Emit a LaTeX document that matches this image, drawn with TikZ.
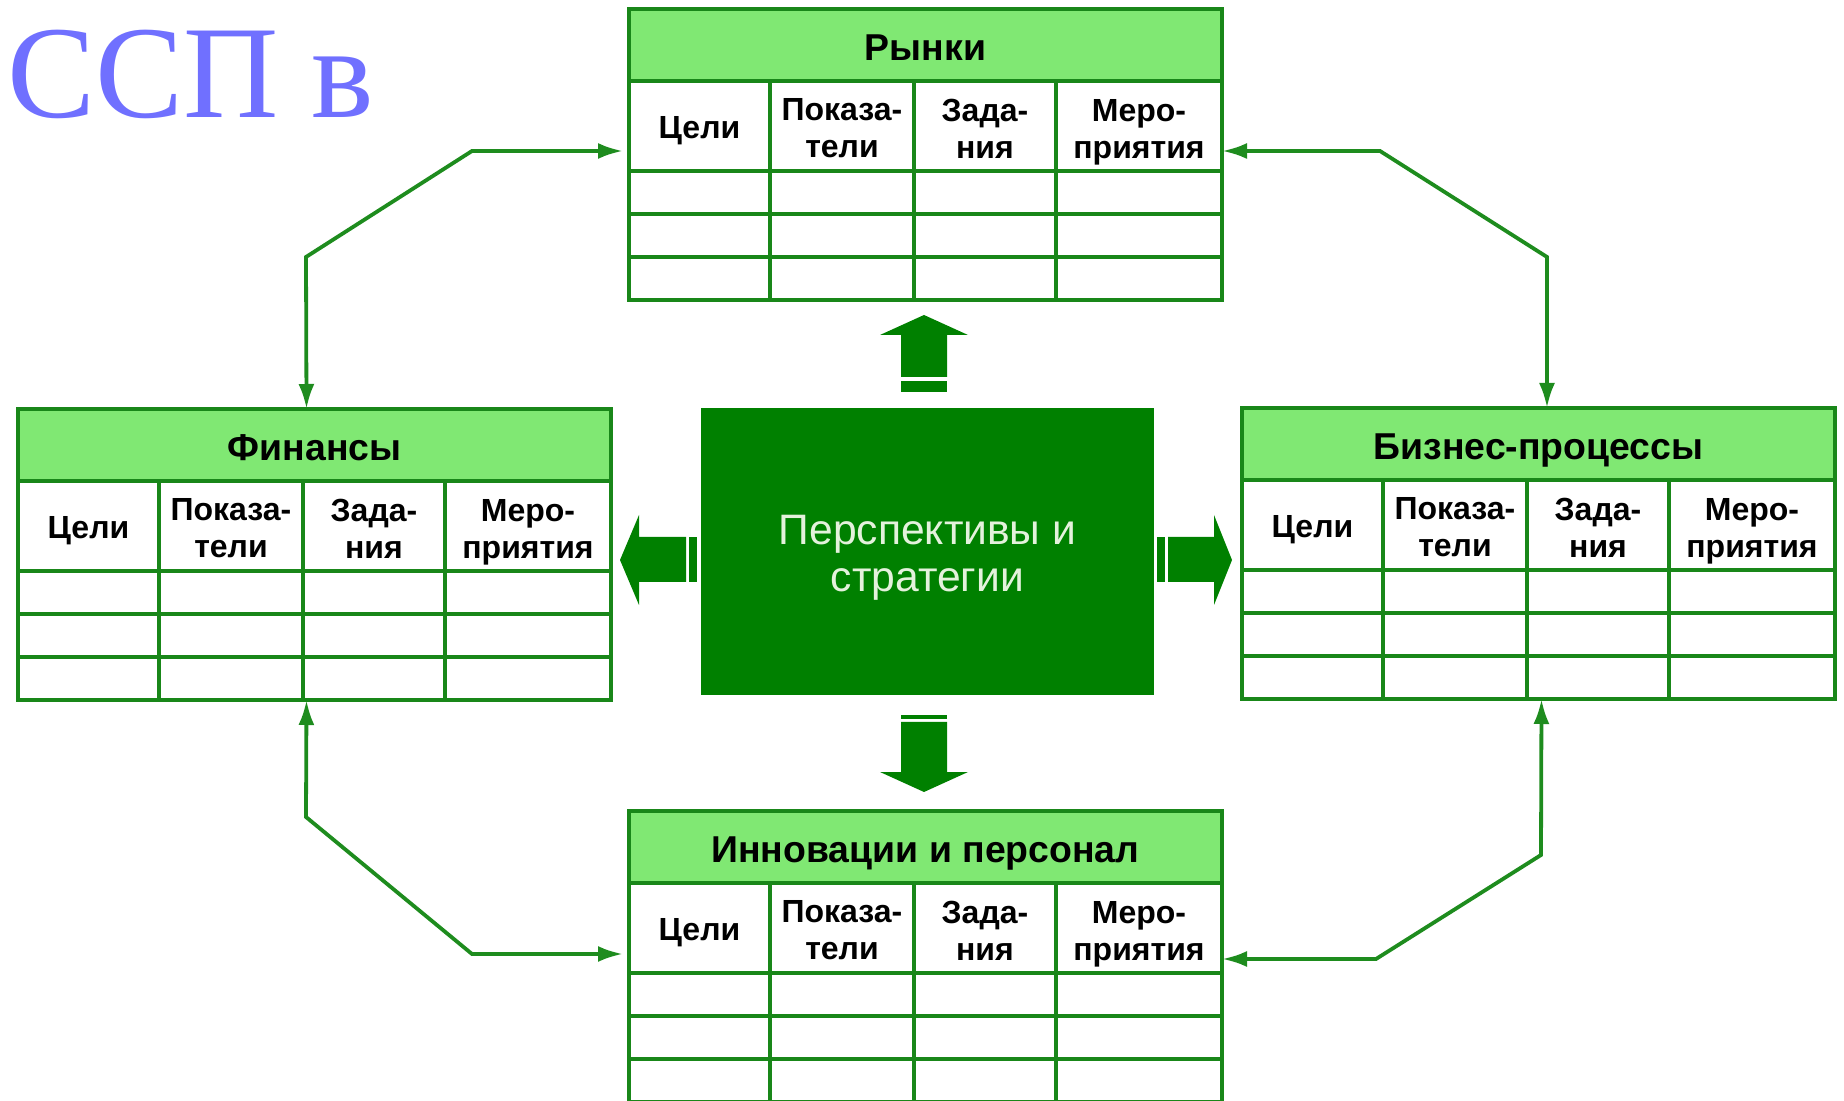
\documentclass[tikz,border=0pt]{standalone}
\usepackage{fontspec}
\setmainfont{Liberation Sans}
\newfontfamily\titlefont{Liberation Serif}
\usepackage{tikz}
\usetikzlibrary{calc}
\usetikzlibrary{arrows.meta, positioning}
\tikzset{>={Latex[length=12.5pt,width=8pt]}}

\definecolor{tabgreen}{RGB}{25,135,25}
\definecolor{headgreen}{RGB}{128,232,115}
\definecolor{coregreen}{RGB}{0,128,0}
\definecolor{coretext}{RGB}{228,242,220}
\definecolor{titleblue}{RGB}{112,112,255}
\definecolor{linkgreen}{RGB}{30,140,30}

\tikzset{
	tabline/.style={draw=tabgreen, line width=1.6pt},
	tabframe/.style={tabline, minimum width=296.5pt, minimum height=145.5pt, inner sep=0pt, outer sep=0pt},
	headtext/.style={font=\bfseries\fontsize{18.7}{21}\selectfont, text height=13.4pt, text depth=0pt, inner sep=0pt},
	coltext/.style={font=\bfseries\fontsize{16}{18.5}\selectfont, align=center, inner sep=0pt},
	corebox/.style={fill=coregreen, minimum width=226.5pt, minimum height=143.5pt, inner sep=0pt},
	coretxt/.style={text=coretext, font=\fontsize{21.3}{23.5}\selectfont, align=center, inner sep=0pt},
	blockarrow/.style={fill=coregreen},
	link/.style={draw=linkgreen, line width=1.9pt, line join=miter},
	titletext/.style={text=titleblue, font=\titlefont\fontsize{66}{70}\selectfont, inner sep=0pt}
}

\newcommand{\ssptable}[4]{%
	\begin{scope}[shift={(#2,#3)}]
		\fill[headgreen] (0,0) rectangle (593,72);
		\node[tabframe] (#1) at (296.5,145.5) {};
		\draw[tabline] (0,72)--(593,72) (0,162)--(593,162) (0,205)--(593,205) (0,248)--(593,248);
		\draw[tabline] (141,72)--(141,291) (285,72)--(285,291) (427,72)--(427,291);
		\node[headtext] (#1-head) at (296.5,38) {#4};
		\node[coltext] (#1-goal) at (70.5,122) {Цели};
		\node[coltext] (#1-ind) at (213,119.5) {Показа-\\тели};
		\node[coltext] (#1-task) at (356,119.5) {Зада-\\ния};
		\node[coltext] (#1-act) at (510,123) {Меро-\\приятия};
	\end{scope}}

\begin{document}
\begin{tikzpicture}[x=0.5pt,y=-0.5pt]
	\useasboundingbox (0,0) rectangle (1844,1101);
	\node[titletext, anchor=base west] (ttl) at (7,118) {ССП в};

	\ssptable{mkt}{629}{9}{Рынки}
	\ssptable{fin}{18}{409}{Финансы}
	\ssptable{biz}{1242}{408}{Бизнес-процессы}
	\ssptable{inn}{629}{811}{Инновации и персонал}

	\node[corebox] (core) at (927.5,551.5) {};
	\node[coretxt] (core-text) at (927.5,558) {Перспективы и\\стратегии};

	\fill[blockarrow] (901,377)--(901,335)--(880,335)--(924,315)--(968,335)--(947,335)--(947,377)--cycle;
	\fill[blockarrow] (901,381) rectangle (947,392);
	\fill[blockarrow] (901,715) rectangle (947,719);
	\fill[blockarrow] (901,722)--(901,772)--(880,772)--(924,792)--(968,772)--(947,772)--(947,722)--cycle;
	\fill[blockarrow] (686,537)--(639,537)--(639,515)--(620,560)--(639,605)--(639,582)--(686,582)--cycle;
	\fill[blockarrow] (689,537) rectangle (697,582);
	\fill[blockarrow] (1157,537) rectangle (1165,582);
	\fill[blockarrow] (1168,537)--(1214,537)--(1214,515)--(1232,560)--(1214,605)--(1214,582)--(1168,582)--cycle;

	\coordinate (tl1) at (306,257);
	\coordinate (tl2) at (472,151);
	\coordinate (tr1) at (1380,151);
	\coordinate (tr2) at (1547,257);
	\coordinate (bl1) at (306,817);
	\coordinate (bl2) at (472,954);
	\coordinate (br1) at (1376,959);
	\coordinate (br2) at (1541,855);

	\draw[link,<->] ($(fin.north)+(-8,0)$)--(tl1)--(tl2)--($(mkt.west)+(-6,-3.5)$);
	\draw[link,<->] ($(mkt.east)+(0,-3.5)$)--(tr1)--(tr2)--($(biz.north)+(8.5,0)$);
	\draw[link,<->] ($(fin.south)+(-8,0)$)--(bl1)--(bl2)--($(inn.west)+(-6,-2.5)$);
	\draw[link,<->] ($(inn.east)+(0,2.5)$)--(br1)--(br2)--($(biz.south)+(3,0)$);
\end{tikzpicture}
\end{document}
